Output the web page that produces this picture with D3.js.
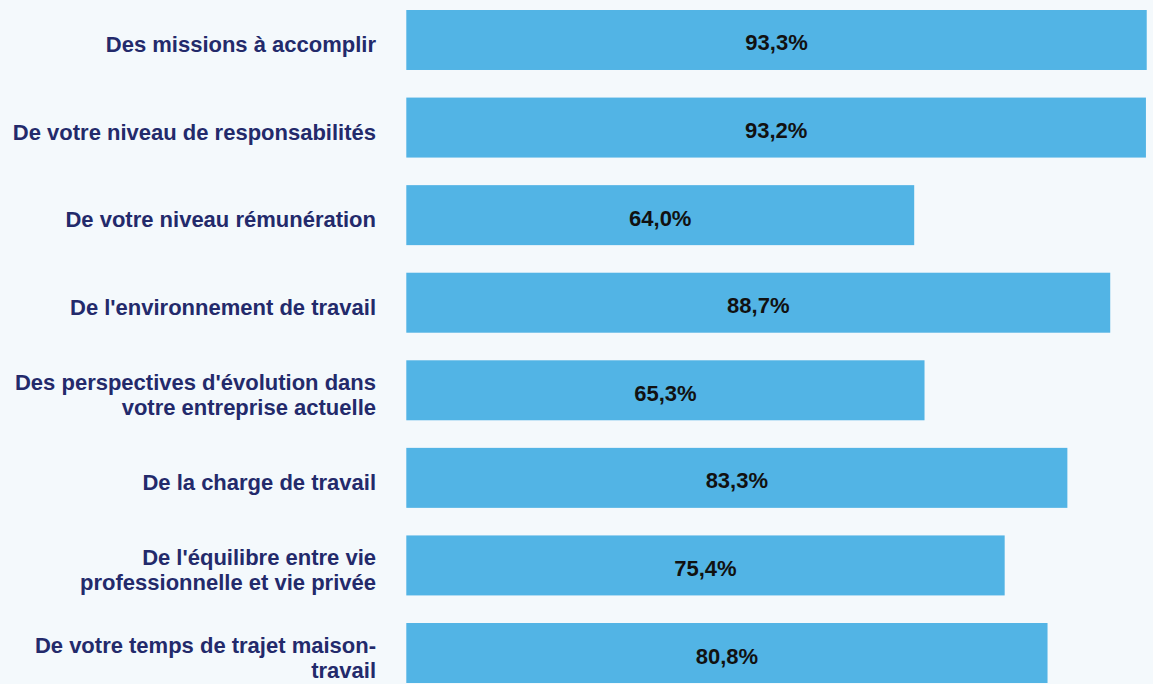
<!DOCTYPE html>
<html>
<head>
<meta charset="utf-8">
<script src="https://cdn.jsdelivr.net/npm/d3@7"></script>
<style>
  html, body { margin: 0; padding: 0; background: #f4f9fc; }
  svg { display: block; }
</style>
</head>
<body>
<svg id="chart" width="1153" height="684"></svg>
<script>
// Categories (each entry is a list of label lines) and their percentages
const categories = [
    ["Des missions à accomplir"],
    ["De votre niveau de responsabilités"],
    ["De votre niveau rémunération"],
    ["De l'environnement de travail"],
    ["Des perspectives d'évolution dans", "votre entreprise actuelle"],
    ["De la charge de travail"],
    ["De l'équilibre entre vie", "professionnelle et vie privée"],
    ["De votre temps de trajet maison-", "travail"]
];
const values = [93.3, 93.2, 64.0, 88.7, 65.3, 83.3, 75.4, 80.8];

const svg = d3.select("#chart"),
    width = 1153,
    height = 684;

const barLeft = 406.3;

const x = d3.scaleLinear()
    .domain([0, 100])
    .range([barLeft, barLeft + 793.6]);

const y = d3.scaleBand()
    .domain(d3.range(categories.length))
    .range([10, 683])
    .paddingInner(0.315)
    .paddingOuter(0);

const fontFamily = "'Liberation Sans', Arial, Helvetica, sans-serif";

const rows = svg.selectAll(".row")
    .data(values)
    .enter().append("g")
    .attr("class", "row");

// Bars
rows.append("rect")
    .attr("x", x(0))
    .attr("y", (d, i) => y(i))
    .attr("width", d => x(d) - x(0))
    .attr("height", y.bandwidth())
    .style("fill", "#52b4e5");

// Value labels centered in the bar
rows.append("text")
    .attr("x", d => (x(0) + x(d)) / 2)
    .attr("y", (d, i) => y(i) + y.bandwidth() / 2 + 10.5)
    .style("text-anchor", "middle")
    .style("font-family", fontFamily)
    .style("font-weight", "bold")
    .style("font-size", "22px")
    .style("fill", "#111111")
    .text(d => d.toFixed(1).replace(".", ",") + "%");

// Category labels, right aligned
const lineHeight = 25;
rows.append("text")
    .attr("y", (d, i) => y(i) + y.bandwidth() / 2)
    .style("text-anchor", "end")
    .style("font-family", fontFamily)
    .style("font-weight", "bold")
    .style("font-size", "22px")
    .style("fill", "#232a6b")
    .each(function (d, i) {
        const lines = categories[i];
        const offset = 12 - (lines.length - 1) * lineHeight / 2;
        d3.select(this).selectAll("tspan")
            .data(lines)
            .enter().append("tspan")
            .attr("x", 376)
            .attr("dy", (l, j) => j === 0 ? offset + "px" : lineHeight + "px")
            .text(l => l);
    });
</script>
</body>
</html>
